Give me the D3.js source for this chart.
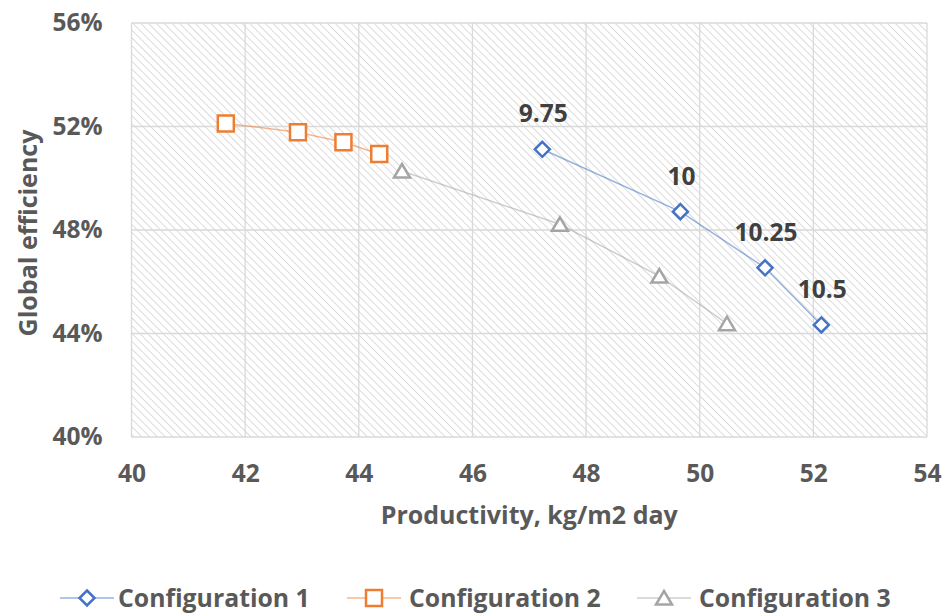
<!DOCTYPE html>
<html>
<head>
<meta charset="utf-8">
<script src="https://cdn.jsdelivr.net/npm/d3@7"></script>
<style>
  html, body { margin: 0; padding: 0; background: #fff; }
  svg { display: block; }
  text { font-family: "Open Sans", Lato, sans-serif; font-weight: bold; }
</style>
</head>
<body>
<svg id="chart" width="944" height="614"></svg>
<script>
// Productivity (kg/m2 day) vs global efficiency (%) for three configurations
const config1X = [47.23, 49.66, 51.15, 52.14];
const config1Y = [51.12, 48.71, 46.54, 44.33];
const config1Labels = ["9.75", "10", "10.25", "10.5"];

const config2X = [41.66, 42.93, 43.73, 44.36];
const config2Y = [52.12, 51.78, 51.39, 50.94];

const config3X = [44.76, 47.54, 49.29, 50.48];
const config3Y = [50.28, 48.22, 46.22, 44.38];

const xTicks = [40, 42, 44, 46, 48, 50, 52, 54];
const yTicks = [40, 44, 48, 52, 56];

const seriesNames = ["Configuration 1", "Configuration 2", "Configuration 3"];
const seriesColors = ["#4472C4", "#ED7D31", "#A5A5A5"];
const seriesShapes = ["diamond", "square", "triangle"];

const svg = d3.select("#chart");
const plot = { left: 131.5, top: 23, right: 927, bottom: 437 };

const x = d3.scaleLinear().domain([40, 54]).range([plot.left, plot.right]);
const y = d3.scaleLinear().domain([40, 56]).range([plot.bottom, plot.top]);

// Diagonal hatch fill for the plot background
const defs = svg.append("defs");
const pat = defs.append("pattern")
  .attr("id", "hatch")
  .attr("patternUnits", "userSpaceOnUse")
  .attr("width", 5.5).attr("height", 5.5)
  .attr("patternTransform", "rotate(-45)");
pat.append("rect").attr("width", 5.5).attr("height", 5.5).attr("fill", "#ffffff");
pat.append("line")
  .attr("x1", 0).attr("y1", 0).attr("x2", 0).attr("y2", 5.5)
  .attr("stroke", "#d4d4d4").attr("stroke-width", 1.6);

svg.append("rect")
  .attr("x", plot.left).attr("y", plot.top)
  .attr("width", plot.right - plot.left).attr("height", plot.bottom - plot.top)
  .attr("fill", "url(#hatch)");

// Gridlines
const grid = svg.append("g");
grid.selectAll(".vg").data(xTicks).join("line")
  .attr("x1", d => x(d)).attr("x2", d => x(d))
  .attr("y1", plot.top).attr("y2", plot.bottom)
  .attr("stroke", "#d9d9d9").attr("stroke-width", 1.3);
grid.selectAll(".hg").data(yTicks).join("line")
  .attr("x1", plot.left).attr("x2", plot.right)
  .attr("y1", d => y(d)).attr("y2", d => y(d))
  .attr("stroke", "#d9d9d9").attr("stroke-width", 1.3);

// Axes (tick labels only)
const tickFont = 24.5;
const xAxis = svg.append("g")
  .attr("transform", `translate(0,${plot.bottom})`)
  .call(d3.axisBottom(x).tickValues(xTicks).tickSize(0).tickPadding(28).tickFormat(d3.format("d")));
xAxis.select(".domain").remove();
xAxis.selectAll("text").attr("font-size", tickFont).attr("fill", "#595959")
  .attr("font-family", "'Open Sans', sans-serif").attr("font-weight", "bold");

const yAxis = svg.append("g")
  .attr("transform", `translate(${plot.left},0)`)
  .call(d3.axisLeft(y).tickValues(yTicks).tickSize(0).tickPadding(29).tickFormat(d => d + "%"));
yAxis.select(".domain").remove();
yAxis.selectAll("text").attr("font-size", tickFont).attr("fill", "#595959")
  .attr("font-family", "'Open Sans', sans-serif").attr("font-weight", "bold");

// Axis titles
svg.append("text")
  .attr("x", (plot.left + plot.right) / 2).attr("y", 524)
  .attr("text-anchor", "middle").attr("font-size", 25).attr("fill", "#595959")
  .text("Productivity, kg/m2 day");
svg.append("text")
  .attr("transform", `translate(37,${(plot.top + plot.bottom) / 2 + 3}) rotate(-90)`)
  .attr("text-anchor", "middle").attr("font-size", 25).attr("fill", "#595959")
  .text("Global efficiency");

// Marker shapes
function markerPath(shape) {
  if (shape === "diamond") return "M0,-7.5L7.5,0L0,7.5L-7.5,0Z";
  if (shape === "square") return "M-8,-8H8V8H-8Z";
  return "M0,-7L8,6.5H-8Z";
}

const series = [
  { xs: config1X, ys: config1Y },
  { xs: config2X, ys: config2Y },
  { xs: config3X, ys: config3Y }
];

const line = d3.line().x(d => x(d[0])).y(d => y(d[1]));

// Lines first, then markers on top
[2, 1, 0].forEach(i => {
  const s = series[i];
  const pts = s.xs.map((v, k) => [v, s.ys[k]]);
  svg.append("path").datum(pts)
    .attr("d", line).attr("fill", "none")
    .attr("stroke", seriesColors[i]).attr("stroke-opacity", 0.55).attr("stroke-width", 1.5);
});
[2, 1, 0].forEach(i => {
  const s = series[i];
  const pts = s.xs.map((v, k) => [v, s.ys[k]]);
  svg.append("g").selectAll("path").data(pts).join("path")
    .attr("transform", d => `translate(${x(d[0])},${y(d[1])})`)
    .attr("d", markerPath(seriesShapes[i]))
    .attr("fill", "#fff").attr("stroke", seriesColors[i]).attr("stroke-width", 2.5);
});

// Data labels for configuration 1
svg.append("g").selectAll("text").data(config1X.map((v, k) => [v, config1Y[k], config1Labels[k]])).join("text")
  .attr("x", d => x(d[0]) + 1).attr("y", d => y(d[1]) - 27)
  .attr("text-anchor", "middle").attr("font-size", tickFont).attr("fill", "#404040")
  .text(d => d[2]);

// Legend
const legendItems = [
  { cx: 87, textX: 118 },
  { cx: 374, textX: 409 },
  { cx: 664, textX: 699 }
];
const legend = svg.append("g");
seriesNames.forEach((name, i) => {
  const g = legend.append("g");
  const cx = legendItems[i].cx;
  g.append("line").attr("x1", cx - 27).attr("x2", cx + 27)
    .attr("y1", 598).attr("y2", 598)
    .attr("stroke", seriesColors[i]).attr("stroke-opacity", 0.55).attr("stroke-width", 1.5);
  g.append("path").attr("transform", `translate(${cx},598)`)
    .attr("d", markerPath(seriesShapes[i]))
    .attr("fill", "#fff").attr("stroke", seriesColors[i]).attr("stroke-width", 2.5);
  g.append("text").attr("x", legendItems[i].textX).attr("y", 607)
    .attr("font-size", 24.8).attr("fill", "#595959").text(name);
});
</script>
</body>
</html>
